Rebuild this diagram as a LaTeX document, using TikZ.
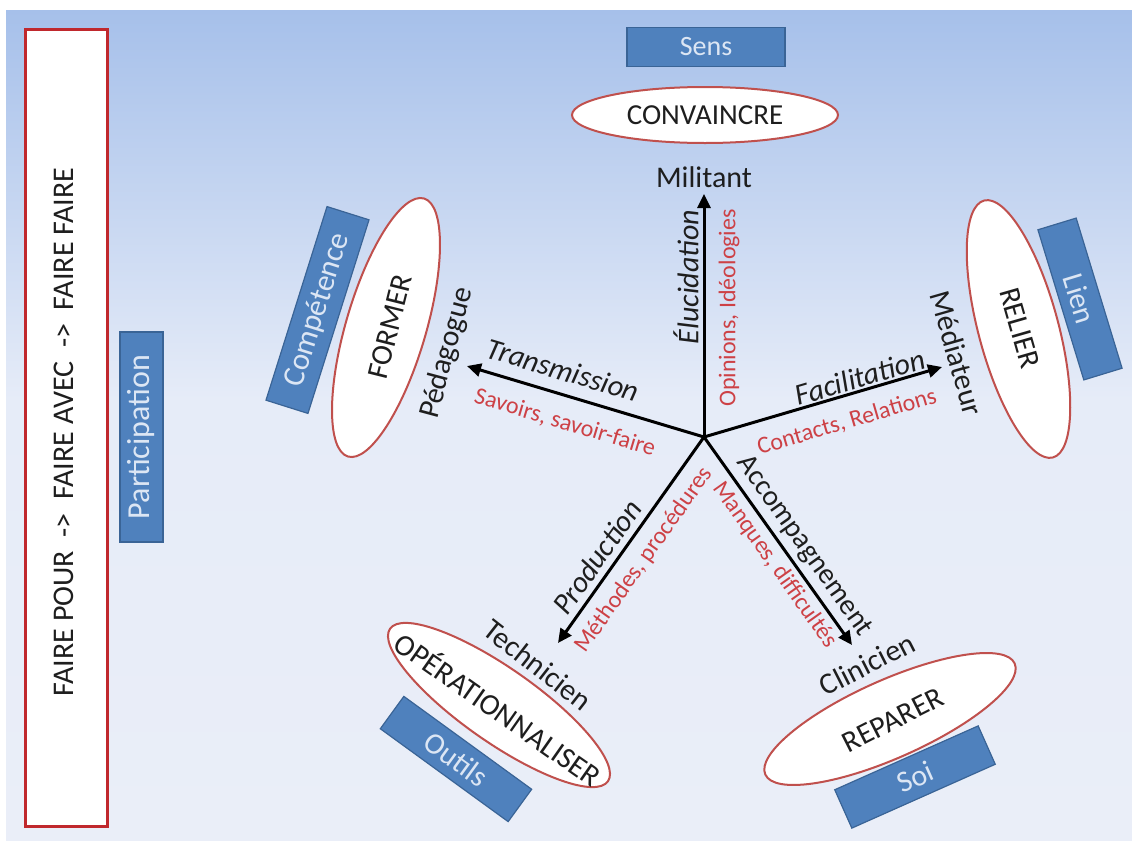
\documentclass[tikz,border=0pt]{standalone}
\usepackage{fontspec}
\setmainfont{Carlito}
\usetikzlibrary{shapes.geometric,arrows.meta}
\definecolor{bluefill}{HTML}{4F81BD}
\definecolor{blueline}{HTML}{3A6496}
\definecolor{bluetext}{HTML}{DCE6F4}
\definecolor{ellred}{HTML}{C0504D}
\definecolor{lblred}{RGB}{205,65,70}
\definecolor{boxred}{HTML}{C0282D}
\definecolor{bgtop}{RGB}{166,192,234}
\definecolor{bgmid}{RGB}{230,236,248}
\definecolor{bgbot}{RGB}{234,238,248}
\definecolor{ink}{HTML}{1E1E1E}
\newcommand\fsz[1]{\fontsize{#1}{#1}\selectfont}
\begin{document}
\begin{tikzpicture}[x=0.5pt,y=-0.5pt,
  bluebox/.style={draw=blueline, line width=0.6pt, fill=bluefill, text=bluetext, inner sep=0pt, font=\fsz{15}},
  ell/.style={ellipse, draw=ellred, line width=1pt, fill=white, inner sep=0pt},
  lbl/.style={text=ink, inner sep=0pt, font=\fsz{15}},
  ilbl/.style={text=ink, inner sep=0pt, font=\fsz{15}\itshape},
  rlbl/.style={text=lblred, inner sep=0pt, font=\fsz{12}},
  arr/.style={draw=black, line width=1.5pt, -{Triangle[length=7pt,width=6.5pt]}}]
\useasboundingbox (0,0) rectangle (1132,841);
\fill[white] (0,0) rectangle (1132,841);
\shade[top color=bgtop, bottom color=bgmid] (6,10) rectangle (1132,400);
\shade[top color=bgmid, bottom color=bgbot] (6,399) rectangle (1132,841);

% left box
\node[draw=boxred, line width=1.5pt, fill=white, minimum width=41pt, minimum height=398.5pt, inner sep=0pt] (side) at (66,427.5) {};
\node[lbl, rotate=90] (sidetxt) at (64,432) {FAIRE POUR\ \ ->\ \ FAIRE AVEC\ \ ->\ \ FAIRE FAIRE};
\node[bluebox, rotate=90, minimum width=105pt, minimum height=21.5pt, font=\fsz{16}] (part) at (141.5,437) {Participation};

% top
\node[bluebox, minimum width=79pt, minimum height=19.5pt, font=\fsz{14}] (sens) at (706,47) {Sens};
\node[ell, minimum width=133pt, minimum height=28pt] (conv) at (705,115) {};
\node[lbl, font=\fsz{14.5}] (convt) at (conv) {CONVAINCRE};
\node[lbl] (mil) at (704,177) {Militant};

% star
\coordinate (c) at (704,437);
\coordinate (tup) at (704,194);
\coordinate (tleft) at (467,366);
\coordinate (tright) at (942,367);
\coordinate (tll) at (558,643);
\coordinate (tlr) at (852,645);
\draw[arr] (c) -- (tup);
\draw[arr] (c) -- (tleft);
\draw[arr] (c) -- (tright);
\draw[arr] (c) -- (tll);
\draw[arr] (c) -- (tlr);

\node[ilbl, rotate=90] (eluc) at (686,277) {Élucidation};
\node[rlbl, rotate=90] (opin) at (729,308) {Opinions, Idéologies};

% left group
\node[ilbl, rotate=-16.7] (trans) at (563,370) {Transmission};
\node[rlbl, rotate=-16.7] (sav) at (565,423) {Savoirs, savoir-faire};
\node[lbl, rotate=75] (peda) at (447,353) {Pédagogue};
\node[ell, rotate=73.6, minimum width=134.5pt, minimum height=40pt] (form) at (386,327.5) {};
\node[lbl, rotate=76] (formt) at (390,327) {FORMER};
\node[bluebox, rotate=72.5, minimum width=101.5pt, minimum height=22pt, font=\fsz{15.5}] (comp) at (317.5,310) {Compétence};

% right group
\node[ilbl, rotate=16.4] (facil) at (860,377) {Facilitation};
\node[rlbl, rotate=16.4] (cont) at (847,422) {Contacts, Relations};
\node[lbl, rotate=-74] (medi) at (957,353) {Médiateur};
\node[ell, rotate=-75, minimum width=133pt, minimum height=40pt] (rel) at (1018.5,329) {};
\node[lbl, rotate=-74] (relt) at (1020,328) {RELIER};
\node[bluebox, rotate=-73, minimum width=78.5pt, minimum height=20pt] (lien) at (1080,299) {Lien};

% lower left group
\node[ilbl, rotate=54.7] (prod) at (597,557) {Production};
\node[rlbl, rotate=54.7] (meth) at (644,560) {Méthodes, procédures};
\node[lbl, rotate=-38] (tech) at (538,665) {Technicien};
\node[ell, rotate=-35, minimum width=133pt, minimum height=37pt] (oper) at (499,705) {};
\node[lbl, rotate=-35] (opert) at (499,708) {OPÉRATIONNALISER};
\node[bluebox, rotate=-36, minimum width=79pt, minimum height=20pt] (outi) at (456,759) {Outils};

% lower right group
\node[lbl, font=\fsz{14.5}, rotate=-54.6] (accom) at (804,546) {Accompagnement};
\node[rlbl, rotate=-54.6] (manq) at (775,565) {Manques, difficultés};
\node[lbl, rotate=27] (clin) at (867,664) {Clinicien};
\node[ell, rotate=24, minimum width=136.5pt, minimum height=39pt] (rep) at (890,719) {};
\node[lbl, rotate=27] (rept) at (893,720) {REPARER};
\node[bluebox, rotate=24, minimum width=78.5pt, minimum height=21pt] (soi) at (915,777) {Soi};
\end{tikzpicture}
\end{document}
